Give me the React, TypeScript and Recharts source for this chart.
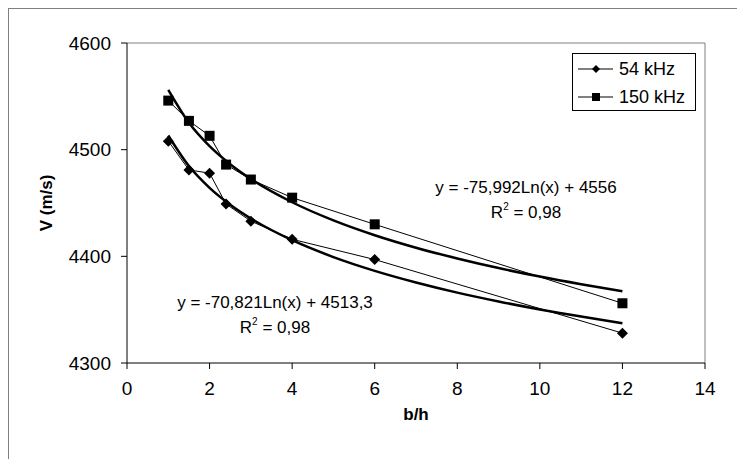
import React from "react";
import {
  ComposedChart,
  Line,
  XAxis,
  YAxis,
  ReferenceLine,
} from "recharts";

// measured points
const X_VALUES = [1, 1.5, 2, 2.4, 3, 4, 6, 12];
const V_54 = [4508, 4481, 4478, 4449, 4433, 4416, 4397, 4328];
const V_150 = [4546, 4527, 4513, 4486, 4472, 4455, 4430, 4356];

// log trendlines
const TREND_X = [1, 1.5, 2, 2.5, 3, 4, 5, 6, 7, 8, 9, 10, 11, 12];
const TREND_54 = [4513.3, 4484.6, 4464.2, 4448.4, 4435.5, 4415.1, 4399.3, 4386.4, 4375.5, 4366.0, 4357.7, 4350.2, 4343.5, 4337.3];
const TREND_150 = [4556, 4525.2, 4503.3, 4486.4, 4472.5, 4450.7, 4433.7, 4419.8, 4408.1, 4398.0, 4389.0, 4381.0, 4373.8, 4367.2];

const X_TICKS = [0, 2, 4, 6, 8, 10, 12, 14];
const Y_TICKS = [4300, 4400, 4500, 4600];

const SERIES_NAMES = ["54 kHz", "150 kHz"];
const EQ_54 = ["y = -70,821Ln(x) + 4513,3", "0,98"];
const EQ_150 = ["y = -75,992Ln(x) + 4556", "0,98"];

const FONT = "'Liberation Sans', Arial, sans-serif";

const zip = (xs: number[], ys: number[]) => xs.map((x, i) => ({ x, y: ys[i] }));

const data54 = zip(X_VALUES, V_54);
const data150 = zip(X_VALUES, V_150);
const trend54 = zip(TREND_X, TREND_54);
const trend150 = zip(TREND_X, TREND_150);

const Diamond = (props: any) => {
  const { cx, cy, index } = props;
  if (cx == null || cy == null) return <g key={index} />;
  const r = 5.5;
  return (
    <path
      key={index}
      d={`M${cx},${cy - r}L${cx + r},${cy}L${cx},${cy + r}L${cx - r},${cy}Z`}
      fill="#000"
    />
  );
};

const Square = (props: any) => {
  const { cx, cy, index } = props;
  if (cx == null || cy == null) return <g key={index} />;
  const s = 5;
  return <rect key={index} x={cx - s} y={cy - s} width={s * 2} height={s * 2} fill="#000" />;
};

const LegendBox = () => (
  <div
    style={{
      position: "absolute",
      left: 563,
      top: 44,
      border: "1px solid #000",
      width: 122,
      height: 56,
      background: "#fff",
      fontFamily: FONT,
      fontSize: 18,
      color: "#000",
    }}
  >
    {SERIES_NAMES.map((name, i) => (
      <div key={name} style={{ display: "flex", alignItems: "center", height: 28, marginTop: i === 0 ? 1 : 0 }}>
        <svg width={44} height={16} style={{ marginLeft: 4 }}>
          <line x1={1} y1={8} x2={36} y2={8} stroke="#000" strokeWidth={1} />
          {i === 0 ? (
            <path d="M19,4L23,8L19,12L15,8Z" fill="#000" />
          ) : (
            <rect x={15} y={4} width={8} height={8} fill="#000" />
          )}
        </svg>
        <span style={{ marginLeft: -2 }}>{name}</span>
      </div>
    ))}
  </div>
);

const eqStyle: React.CSSProperties = {
  position: "absolute",
  fontFamily: FONT,
  fontSize: 17,
  color: "#000",
  textAlign: "center",
  lineHeight: "25px",
  whiteSpace: "nowrap",
  transform: "translateX(-50%)",
};

export default function App() {
  return (
    <div
      style={{
        position: "relative",
        width: 745,
        height: 459,
        borderLeft: "1px solid #808080",
        borderTop: "1px solid #808080",
        boxSizing: "border-box",
        background: "#fff",
      }}
    >
      <ComposedChart
        width={737}
        height={450}
        margin={{ top: 34, right: 41, bottom: 0, left: 0 }}
        style={{ position: "absolute", left: 0, top: 0, fontFamily: FONT }}
      >
        <XAxis
          type="number"
          dataKey="x"
          domain={[0, 14]}
          ticks={X_TICKS}
          allowDataOverflow
          height={96}
          stroke="#000"
          tickSize={6}
          tickMargin={13}
          tick={{ fill: "#000", fontSize: 19 }}
          label={{
            value: "b/h",
            position: "insideBottom",
            offset: 39,
            style: { fontWeight: "bold", fontSize: 17, fill: "#000" },
          }}
        />
        <YAxis
          type="number"
          domain={[4300, 4600]}
          ticks={Y_TICKS}
          allowDataOverflow
          width={118}
          stroke="#000"
          tickSize={6}
          tickMargin={10}
          tick={{ fill: "#000", fontSize: 19 }}
          label={{
            value: "V (m/s)",
            angle: -90,
            position: "insideLeft",
            offset: 37,
            style: { fontWeight: "bold", fontSize: 17, fill: "#000", textAnchor: "middle" },
          }}
        />
        <ReferenceLine y={4600} stroke="#808080" ifOverflow="visible" />
        <ReferenceLine x={14} stroke="#808080" ifOverflow="visible" />
        <Line
          data={trend54}
          dataKey="y"
          type="monotone"
          stroke="#000"
          strokeWidth={2.5}
          dot={false}
          legendType="none"
          isAnimationActive={false}
        />
        <Line
          data={trend150}
          dataKey="y"
          type="monotone"
          stroke="#000"
          strokeWidth={2.5}
          dot={false}
          legendType="none"
          isAnimationActive={false}
        />
        <Line
          data={data54}
          dataKey="y"
          name={SERIES_NAMES[0]}
          type="linear"
          stroke="#000"
          strokeWidth={1}
          dot={Diamond}
          isAnimationActive={false}
        />
        <Line
          data={data150}
          dataKey="y"
          name={SERIES_NAMES[1]}
          type="linear"
          stroke="#000"
          strokeWidth={1}
          dot={Square}
          isAnimationActive={false}
        />
      </ComposedChart>
      <LegendBox />
      <div style={{ ...eqStyle, left: 517, top: 166 }}>
        {EQ_150[0]}
        <br />
        R<sup style={{ fontSize: 10, verticalAlign: "top", lineHeight: "14px" }}>2</sup> = {EQ_150[1]}
      </div>
      <div style={{ ...eqStyle, left: 266, top: 281 }}>
        {EQ_54[0]}
        <br />
        R<sup style={{ fontSize: 10, verticalAlign: "top", lineHeight: "14px" }}>2</sup> = {EQ_54[1]}
      </div>
    </div>
  );
}
